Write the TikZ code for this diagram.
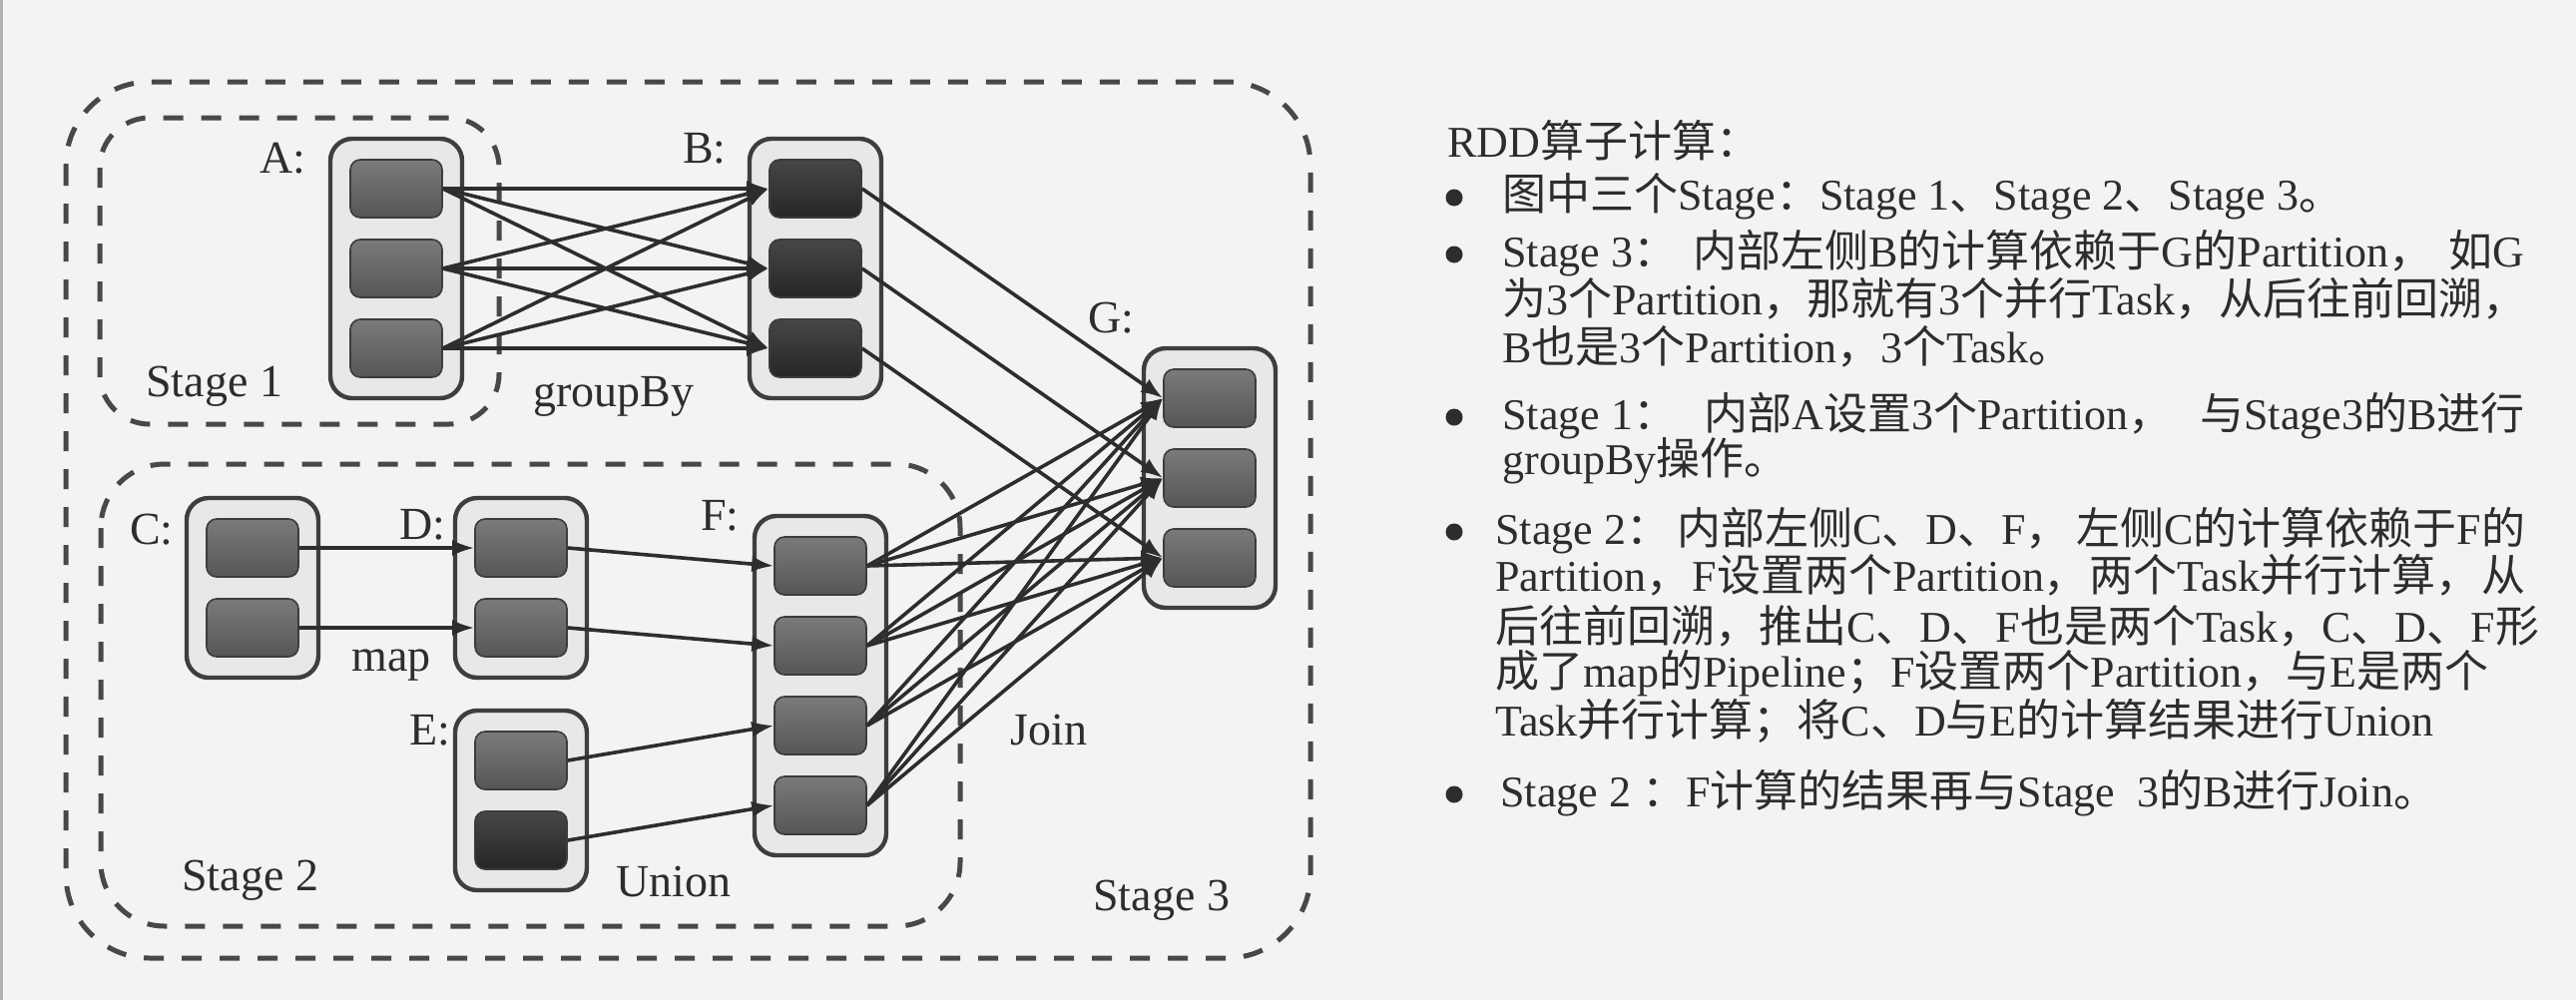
\documentclass[tikz,border=0pt]{standalone}
\usepackage{fontspec}
\setmainfont{Liberation Serif}
\newfontfamily\cjk{Noto Sans CJK SC}
\usetikzlibrary{arrows.meta}
\newcommand\zh[1]{{\cjk #1}}
\definecolor{bg}{RGB}{243,243,243}
\definecolor{ink}{RGB}{45,45,45}
\definecolor{dashc}{RGB}{72,72,72}
\definecolor{boxc}{RGB}{62,62,62}
\definecolor{grpfill}{RGB}{232,232,232}
\definecolor{cellt}{RGB}{122,122,122}
\definecolor{cellb}{RGB}{86,86,86}
\definecolor{cellk}{RGB}{38,38,38}
\begin{document}
\begin{tikzpicture}[x=0.5pt,y=-0.5pt,
  stagebox/.style={draw=dashc, line width=2.5pt, dash pattern=on 10pt off 9pt},
  grp/.style={draw=boxc, line width=2.2pt, fill=grpfill, rounded corners=11pt, minimum width=66pt, inner sep=0pt},
  cell/.style={draw=cellb!70!black, line width=0.8pt, rounded corners=5pt, minimum width=46pt, minimum height=29pt, inner sep=0pt, top color=cellt, bottom color=cellb},
  dcell/.style={cell, top color=cellk!85!white, bottom color=cellk},
  lbl/.style={font=\fontsize{23}{23}\selectfont, text=ink, inner sep=0pt},
  txt/.style={font=\fontsize{22}{22}\selectfont, text=ink, inner sep=0pt, anchor=base west},
  conn/.style={draw=ink, line width=1.8pt, -{Latex[length=11pt,width=8pt]}},
  bul/.style={circle, fill=ink, minimum size=8.5pt, inner sep=0pt}
]
\useasboundingbox (0,0) rectangle (2581,1002);
\fill[bg] (0,0) rectangle (2581,1002);
\fill[gray!60] (0,0) rectangle (3,1002);

% stages
\draw[stagebox, rounded corners=42pt] (66,82) rectangle (1313,960);
\draw[stagebox, rounded corners=25pt] (100,118) rectangle (500,425);
\draw[stagebox, rounded corners=32pt] (101,465) rectangle (962,928);

% groups
\node[grp, minimum height=130pt] (gA) at (397,269) {};
\node[grp, minimum height=130pt] (gB) at (817,269) {};
\node[grp, minimum height=130pt] (gG) at (1212,479) {};
\node[grp, minimum height=90pt] (gC) at (253,589) {};
\node[grp, minimum height=90pt] (gD) at (522,589) {};
\node[grp, minimum height=90pt] (gE) at (522,802) {};
\node[grp, minimum height=170pt] (gF) at (822,687) {};

% cells
\node[cell] (A1) at (397,189) {};
\node[cell] (A2) at (397,269) {};
\node[cell] (A3) at (397,349) {};
\node[dcell] (B1) at (817,189) {};
\node[dcell] (B2) at (817,269) {};
\node[dcell] (B3) at (817,349) {};
\node[cell] (G1) at (1212,399) {};
\node[cell] (G2) at (1212,479) {};
\node[cell] (G3) at (1212,559) {};
\node[cell] (C1) at (253,549) {};
\node[cell] (C2) at (253,629) {};
\node[cell] (D1) at (522,549) {};
\node[cell] (D2) at (522,629) {};
\node[cell] (E1) at (522,762) {};
\node[dcell] (E2) at (522,842) {};
\node[cell] (F1) at (822,567) {};
\node[cell] (F2) at (822,647) {};
\node[cell] (F3) at (822,727) {};
\node[cell] (F4) at (822,807) {};

% connectors
\foreach \i in {1,2,3}{\foreach \j in {1,2,3}{\draw[conn] (A\i.east) -- (B\j.west);}}
\foreach \i in {1,2,3}{\draw[conn] (B\i.east) -- (G\i.west);}
\draw[conn] (C1.east) -- (D1.west);
\draw[conn] (C2.east) -- (D2.west);
\draw[conn] (D1.east) -- (F1.west);
\draw[conn] (D2.east) -- (F2.west);
\draw[conn] (E1.east) -- (F3.west);
\draw[conn] (E2.east) -- (F4.west);
\foreach \i in {1,2,3,4}{\foreach \j in {1,2,3}{\draw[conn] (F\i.east) -- (G\j.west);}}

% labels
\node[lbl, anchor=base east] (lA) at (307,173) {A:};
\node[lbl, anchor=base east] (lB) at (728,163) {B:};
\node[lbl, anchor=base east] (lG) at (1137,333) {G:};
\node[lbl, anchor=base east] (lC) at (174,545) {C:};
\node[lbl, anchor=base east] (lD) at (447,540) {D:};
\node[lbl, anchor=base east] (lE) at (452,746) {E:};
\node[lbl, anchor=base east] (lF) at (741,531) {F:};
\node[lbl, anchor=base west] (tgb) at (534,407) {groupBy};
\node[lbl, anchor=base west] (tmap) at (352,672) {map};
\node[lbl, anchor=base west] (tun) at (617,898) {Union};
\node[lbl, anchor=base west] (tjo) at (1012,746) {Join};
\node[lbl, anchor=base west] (ts1) at (146,397) {Stage 1};
\node[lbl, anchor=base west] (ts2) at (182,892) {Stage 2};
\node[lbl, anchor=base west] (ts3) at (1095,912) {Stage 3};

% right text
\node[txt] (h0) at (1450,157) {RDD\zh{算子计算：}};
\node[bul] (b1) at (1457,198) {};
\node[txt] (l1) at (1505,210) {\zh{图中三个}Stage\zh{：}Stage 1\zh{、}Stage 2\zh{、}Stage 3\zh{。}};
\node[bul] (b2) at (1457,255) {};
\node[txt] (l2) at (1505,267) {\hbox to 512pt{Stage 3\zh{：}\hfil\zh{内部左侧}B\zh{的计算依赖于}G\zh{的}Partition\zh{，}\hfil\zh{如}G}};
\node[txt] (l3) at (1505,315) {\hbox to 512pt{\zh{为}3\zh{个}Partition\zh{，}\hfil\zh{那就有}3\zh{个并行}Task\zh{，}\hfil\zh{从后往前回溯，}}};
\node[txt] (l4) at (1505,363) {B\zh{也是}3\zh{个}Partition\zh{，}3\zh{个}Task\zh{。}};
\node[bul] (b3) at (1457,418) {};
\node[txt] (l5) at (1505,430) {\hbox to 512pt{Stage 1\zh{：}\hfil\zh{内部}A\zh{设置}3\zh{个}Partition\zh{，}\hfil\zh{与}Stage3\zh{的}B\zh{进行}}};
\node[txt] (l6) at (1505,475) {groupBy\zh{操作。}};
\node[bul] (b4) at (1457,533) {};
\node[txt] (l7) at (1498,545) {\hbox to 516pt{Stage 2\zh{：}\hfil\zh{内部左侧}C\zh{、}D\zh{、}F\zh{，}\hfil\zh{左侧}C\zh{的计算依赖于}F\zh{的}}};
\node[txt] (l8) at (1498,592) {\hbox to 516pt{Partition\zh{，}\hfil F\zh{设置两个}Partition\zh{，}\hfil\zh{两个}Task\zh{并行计算，}\hfil\zh{从}}};
\node[txt] (l9) at (1498,643) {\hbox to 516pt{\zh{后往前回溯，}\hfil\zh{推出}C\zh{、}D\zh{、}F\zh{也是两个}Task\zh{，}\hfil C\zh{、}D\zh{、}F\zh{形}}};
\node[txt] (l10) at (1498,688) {\zh{成了}map\zh{的}Pipeline\zh{；}F\zh{设置两个}Partition\zh{，与}E\zh{是两个}};
\node[txt] (l11) at (1498,737) {Task\zh{并行计算；将}C\zh{、}D\zh{与}E\zh{的计算结果进行}Union};
\node[bul] (b5) at (1457,796) {};
\node[txt] (l12) at (1503,808) {Stage 2 \zh{：}F\zh{计算的结果再与}Stage\ \ 3\zh{的}B\zh{进行}Join\zh{。}};
\end{tikzpicture}
\end{document}
